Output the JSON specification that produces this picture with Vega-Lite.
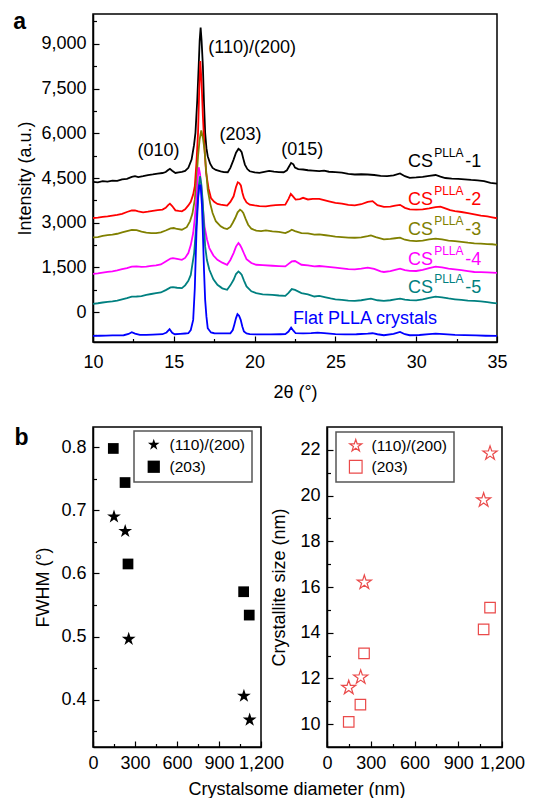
{
"$schema": "https://vega.github.io/schema/vega-lite/v6.json",
"autosize": "none",
"padding": {"left": 93, "top": 14, "right": 442, "bottom": 784},
"background": "white",
"bounds": "flush",
"spacing": 85,
"resolve": {"scale": {"shape": "independent", "color": "independent"}, "legend": {"shape": "independent", "color": "independent"}},
"datasets": {
"c1": [{"x":10,"y":4368},{"x":10.3,"y":4355},{"x":10.6,"y":4392},{"x":10.9,"y":4378},{"x":11.2,"y":4410},{"x":11.5,"y":4402},{"x":11.8,"y":4455},{"x":12.1,"y":4470},{"x":12.4,"y":4540},{"x":12.6,"y":4562},{"x":12.8,"y":4528},{"x":13.1,"y":4560},{"x":13.4,"y":4600},{"x":13.7,"y":4618},{"x":14,"y":4650},{"x":14.3,"y":4668},{"x":14.5,"y":4700},{"x":14.65,"y":4770},{"x":14.76,"y":4805},{"x":14.9,"y":4745},{"x":15.1,"y":4670},{"x":15.3,"y":4690},{"x":15.5,"y":4708},{"x":15.7,"y":4735},{"x":15.9,"y":4840},{"x":16.1,"y":5118},{"x":16.25,"y":5600},{"x":16.34,"y":6014},{"x":16.45,"y":7100},{"x":16.54,"y":8254},{"x":16.6,"y":9100},{"x":16.66,"y":9542},{"x":16.72,"y":9100},{"x":16.8,"y":8254},{"x":16.87,"y":7000},{"x":16.94,"y":6014},{"x":17.02,"y":5500},{"x":17.1,"y":5230},{"x":17.25,"y":4980},{"x":17.4,"y":4838},{"x":17.6,"y":4770},{"x":17.9,"y":4726},{"x":18.1,"y":4700},{"x":18.34,"y":4693},{"x":18.5,"y":4840},{"x":18.7,"y":5118},{"x":18.85,"y":5350},{"x":19,"y":5477},{"x":19.1,"y":5440},{"x":19.2,"y":5365},{"x":19.3,"y":5150},{"x":19.4,"y":4950},{"x":19.55,"y":4800},{"x":19.7,"y":4726},{"x":20,"y":4690},{"x":20.3,"y":4670},{"x":20.6,"y":4705},{"x":20.9,"y":4740},{"x":21.2,"y":4715},{"x":21.5,"y":4700},{"x":21.8,"y":4693},{"x":22,"y":4760},{"x":22.15,"y":4900},{"x":22.26,"y":5006},{"x":22.4,"y":4960},{"x":22.5,"y":4850},{"x":22.7,"y":4800},{"x":23,"y":4785},{"x":23.3,"y":4760},{"x":23.6,"y":4745},{"x":24,"y":4729},{"x":24.3,"y":4745},{"x":24.6,"y":4710},{"x":25,"y":4696},{"x":25.4,"y":4680},{"x":25.8,"y":4640},{"x":26.2,"y":4618},{"x":26.6,"y":4625},{"x":27,"y":4618},{"x":27.4,"y":4600},{"x":27.8,"y":4570},{"x":28.2,"y":4562},{"x":28.6,"y":4585},{"x":29,"y":4651},{"x":29.3,"y":4560},{"x":29.6,"y":4506},{"x":30,"y":4520},{"x":30.4,"y":4540},{"x":30.8,"y":4570},{"x":31.2,"y":4600},{"x":31.5,"y":4545},{"x":31.8,"y":4500},{"x":32.2,"y":4480},{"x":32.6,"y":4470},{"x":33,"y":4455},{"x":33.4,"y":4435},{"x":33.8,"y":4420},{"x":34.2,"y":4395},{"x":34.6,"y":4340},{"x":35,"y":4310}],
"c2": [{"x":10,"y":3158},{"x":10.3,"y":3170},{"x":10.6,"y":3195},{"x":10.9,"y":3215},{"x":11.2,"y":3240},{"x":11.5,"y":3265},{"x":11.8,"y":3300},{"x":12.1,"y":3360},{"x":12.4,"y":3410},{"x":12.6,"y":3416},{"x":12.8,"y":3380},{"x":13.1,"y":3349},{"x":13.4,"y":3370},{"x":13.7,"y":3400},{"x":14,"y":3420},{"x":14.3,"y":3440},{"x":14.5,"y":3500},{"x":14.65,"y":3590},{"x":14.76,"y":3640},{"x":14.9,"y":3560},{"x":15.1,"y":3416},{"x":15.3,"y":3395},{"x":15.5,"y":3382},{"x":15.7,"y":3450},{"x":15.9,"y":3580},{"x":16.05,"y":3700},{"x":16.2,"y":3950},{"x":16.3,"y":4222},{"x":16.4,"y":5000},{"x":16.5,"y":6014},{"x":16.57,"y":7400},{"x":16.64,"y":8422},{"x":16.72,"y":7700},{"x":16.8,"y":6574},{"x":16.9,"y":5500},{"x":17,"y":4670},{"x":17.15,"y":4150},{"x":17.3,"y":3830},{"x":17.5,"y":3700},{"x":17.7,"y":3630},{"x":17.9,"y":3606},{"x":18.1,"y":3590},{"x":18.3,"y":3573},{"x":18.5,"y":3700},{"x":18.7,"y":3886},{"x":18.85,"y":4200},{"x":18.96,"y":4357},{"x":19.05,"y":4330},{"x":19.15,"y":4250},{"x":19.25,"y":4000},{"x":19.34,"y":3830},{"x":19.5,"y":3680},{"x":19.7,"y":3606},{"x":20,"y":3580},{"x":20.3,"y":3560},{"x":20.7,"y":3550},{"x":21,"y":3570},{"x":21.3,"y":3590},{"x":21.6,"y":3600},{"x":21.9,"y":3606},{"x":22.1,"y":3800},{"x":22.24,"y":3965},{"x":22.35,"y":3900},{"x":22.54,"y":3774},{"x":22.8,"y":3790},{"x":23,"y":3836},{"x":23.3,"y":3780},{"x":23.6,"y":3800},{"x":24,"y":3803},{"x":24.3,"y":3760},{"x":24.6,"y":3720},{"x":25,"y":3669},{"x":25.4,"y":3640},{"x":25.8,"y":3600},{"x":26.2,"y":3580},{"x":26.6,"y":3620},{"x":27,"y":3700},{"x":27.3,"y":3725},{"x":27.6,"y":3590},{"x":28,"y":3535},{"x":28.4,"y":3540},{"x":28.7,"y":3570},{"x":29,"y":3600},{"x":29.3,"y":3500},{"x":29.6,"y":3446},{"x":30,"y":3440},{"x":30.4,"y":3446},{"x":30.8,"y":3480},{"x":31.2,"y":3520},{"x":31.5,"y":3540},{"x":31.8,"y":3480},{"x":32.1,"y":3420},{"x":32.4,"y":3390},{"x":32.8,"y":3360},{"x":33.2,"y":3320},{"x":33.6,"y":3278},{"x":34,"y":3240},{"x":34.4,"y":3210},{"x":34.7,"y":3180},{"x":35,"y":3150}],
"c3": [{"x":10,"y":2509},{"x":10.3,"y":2520},{"x":10.6,"y":2560},{"x":10.9,"y":2585},{"x":11.2,"y":2600},{"x":11.5,"y":2630},{"x":11.8,"y":2680},{"x":12.1,"y":2720},{"x":12.4,"y":2760},{"x":12.7,"y":2750},{"x":13,"y":2700},{"x":13.3,"y":2670},{"x":13.6,"y":2650},{"x":13.9,"y":2654},{"x":14.2,"y":2680},{"x":14.5,"y":2740},{"x":14.8,"y":2810},{"x":15,"y":2822},{"x":15.2,"y":2790},{"x":15.5,"y":2766},{"x":15.8,"y":2850},{"x":16,"y":3046},{"x":16.15,"y":3300},{"x":16.3,"y":3774},{"x":16.4,"y":4400},{"x":16.5,"y":5230},{"x":16.6,"y":5800},{"x":16.7,"y":6093},{"x":16.8,"y":5850},{"x":16.9,"y":5454},{"x":17,"y":4750},{"x":17.1,"y":4110},{"x":17.25,"y":3650},{"x":17.4,"y":3326},{"x":17.6,"y":3050},{"x":17.9,"y":2878},{"x":18.1,"y":2820},{"x":18.3,"y":2789},{"x":18.5,"y":2860},{"x":18.65,"y":3000},{"x":18.8,"y":3158},{"x":18.95,"y":3350},{"x":19.1,"y":3438},{"x":19.2,"y":3400},{"x":19.3,"y":3326},{"x":19.45,"y":3120},{"x":19.6,"y":2934},{"x":19.8,"y":2800},{"x":20.1,"y":2733},{"x":20.4,"y":2720},{"x":20.7,"y":2740},{"x":21.1,"y":2710},{"x":21.5,"y":2690},{"x":21.9,"y":2654},{"x":22.1,"y":2700},{"x":22.3,"y":2766},{"x":22.5,"y":2720},{"x":22.9,"y":2654},{"x":23.3,"y":2640},{"x":23.7,"y":2598},{"x":24,"y":2609},{"x":24.4,"y":2580},{"x":24.7,"y":2560},{"x":25,"y":2531},{"x":25.4,"y":2520},{"x":25.8,"y":2500},{"x":26.2,"y":2497},{"x":26.6,"y":2510},{"x":27,"y":2550},{"x":27.2,"y":2575},{"x":27.5,"y":2520},{"x":28,"y":2441},{"x":28.4,"y":2460},{"x":28.7,"y":2480},{"x":29,"y":2497},{"x":29.3,"y":2430},{"x":29.6,"y":2400},{"x":30,"y":2386},{"x":30.4,"y":2400},{"x":30.8,"y":2440},{"x":31.2,"y":2464},{"x":31.6,"y":2440},{"x":32,"y":2400},{"x":32.4,"y":2386},{"x":32.8,"y":2360},{"x":33.2,"y":2330},{"x":33.6,"y":2307},{"x":34,"y":2300},{"x":34.4,"y":2285},{"x":34.7,"y":2278},{"x":35,"y":2260}],
"c4": [{"x":10,"y":1288},{"x":10.3,"y":1300},{"x":10.6,"y":1330},{"x":10.9,"y":1350},{"x":11.2,"y":1372},{"x":11.5,"y":1400},{"x":11.8,"y":1440},{"x":12.1,"y":1480},{"x":12.4,"y":1530},{"x":12.7,"y":1534},{"x":13,"y":1520},{"x":13.3,"y":1530},{"x":13.6,"y":1555},{"x":13.9,"y":1568},{"x":14.2,"y":1600},{"x":14.5,"y":1700},{"x":14.8,"y":1800},{"x":14.95,"y":1814},{"x":15.2,"y":1790},{"x":15.5,"y":1758},{"x":15.7,"y":1820},{"x":15.9,"y":1982},{"x":16.05,"y":2250},{"x":16.2,"y":2654},{"x":16.3,"y":3150},{"x":16.4,"y":3774},{"x":16.47,"y":4400},{"x":16.54,"y":4861},{"x":16.62,"y":4650},{"x":16.7,"y":4222},{"x":16.8,"y":3500},{"x":16.9,"y":2878},{"x":17.05,"y":2450},{"x":17.2,"y":2150},{"x":17.45,"y":1900},{"x":17.7,"y":1758},{"x":18,"y":1660},{"x":18.3,"y":1590},{"x":18.5,"y":1750},{"x":18.7,"y":1982},{"x":18.85,"y":2200},{"x":19,"y":2318},{"x":19.1,"y":2250},{"x":19.2,"y":2150},{"x":19.35,"y":1960},{"x":19.5,"y":1781},{"x":19.8,"y":1650},{"x":20.1,"y":1590},{"x":20.5,"y":1580},{"x":21.1,"y":1557},{"x":21.5,"y":1545},{"x":21.9,"y":1534},{"x":22.1,"y":1620},{"x":22.3,"y":1702},{"x":22.5,"y":1716},{"x":22.9,"y":1590},{"x":23.3,"y":1570},{"x":23.7,"y":1534},{"x":24,"y":1549},{"x":24.4,"y":1530},{"x":24.7,"y":1510},{"x":25,"y":1493},{"x":25.4,"y":1470},{"x":25.8,"y":1445},{"x":26.2,"y":1437},{"x":26.6,"y":1460},{"x":27,"y":1493},{"x":27.4,"y":1450},{"x":27.8,"y":1370},{"x":28,"y":1348},{"x":28.4,"y":1380},{"x":28.7,"y":1420},{"x":29,"y":1460},{"x":29.3,"y":1410},{"x":29.6,"y":1385},{"x":30,"y":1381},{"x":30.4,"y":1420},{"x":30.8,"y":1480},{"x":31.2,"y":1526},{"x":31.6,"y":1500},{"x":32,"y":1460},{"x":32.4,"y":1437},{"x":32.8,"y":1410},{"x":33.2,"y":1380},{"x":33.6,"y":1348},{"x":34,"y":1340},{"x":34.4,"y":1332},{"x":34.7,"y":1328},{"x":35,"y":1320}],
"c5": [{"x":10,"y":280},{"x":10.3,"y":300},{"x":10.6,"y":325},{"x":10.9,"y":345},{"x":11.2,"y":365},{"x":11.5,"y":390},{"x":11.8,"y":430},{"x":12.1,"y":470},{"x":12.4,"y":520},{"x":12.7,"y":526},{"x":13,"y":540},{"x":13.3,"y":580},{"x":13.6,"y":610},{"x":13.9,"y":638},{"x":14.2,"y":660},{"x":14.5,"y":740},{"x":14.8,"y":830},{"x":14.95,"y":840},{"x":15.2,"y":820},{"x":15.5,"y":806},{"x":15.7,"y":900},{"x":15.9,"y":1050},{"x":16.05,"y":1250},{"x":16.15,"y":1600},{"x":16.26,"y":1982},{"x":16.36,"y":2700},{"x":16.46,"y":3550},{"x":16.54,"y":4200},{"x":16.62,"y":4558},{"x":16.7,"y":4300},{"x":16.78,"y":3774},{"x":16.86,"y":3000},{"x":16.94,"y":2206},{"x":17.05,"y":1750},{"x":17.2,"y":1422},{"x":17.45,"y":1100},{"x":17.7,"y":918},{"x":18,"y":800},{"x":18.3,"y":750},{"x":18.5,"y":900},{"x":18.7,"y":1086},{"x":18.85,"y":1280},{"x":19,"y":1366},{"x":19.1,"y":1320},{"x":19.2,"y":1254},{"x":19.35,"y":1050},{"x":19.5,"y":862},{"x":19.8,"y":700},{"x":20.1,"y":638},{"x":20.5,"y":600},{"x":21.1,"y":582},{"x":21.5,"y":560},{"x":21.9,"y":549},{"x":22.1,"y":650},{"x":22.3,"y":773},{"x":22.5,"y":745},{"x":22.9,"y":638},{"x":23.3,"y":600},{"x":23.7,"y":526},{"x":24,"y":544},{"x":24.4,"y":500},{"x":24.7,"y":460},{"x":25,"y":433},{"x":25.4,"y":410},{"x":25.8,"y":390},{"x":26.2,"y":377},{"x":26.6,"y":400},{"x":27,"y":440},{"x":27.2,"y":455},{"x":27.6,"y":400},{"x":28,"y":377},{"x":28.4,"y":400},{"x":28.7,"y":430},{"x":29,"y":455},{"x":29.3,"y":420},{"x":29.6,"y":405},{"x":30,"y":399},{"x":30.4,"y":430},{"x":30.8,"y":480},{"x":31.2,"y":522},{"x":31.6,"y":500},{"x":32,"y":460},{"x":32.4,"y":433},{"x":32.8,"y":410},{"x":33.2,"y":390},{"x":33.6,"y":377},{"x":34,"y":360},{"x":34.4,"y":335},{"x":34.7,"y":315},{"x":35,"y":295}],
"c6": [{"x":10,"y":-795},{"x":10.4,"y":-790},{"x":10.8,"y":-785},{"x":11.2,"y":-780},{"x":11.6,"y":-778},{"x":11.9,"y":-773},{"x":12.2,"y":-730},{"x":12.4,"y":-672},{"x":12.6,"y":-720},{"x":12.9,"y":-762},{"x":13.3,"y":-760},{"x":13.7,"y":-750},{"x":14,"y":-745},{"x":14.3,"y":-739},{"x":14.55,"y":-680},{"x":14.74,"y":-571},{"x":14.9,"y":-690},{"x":15.06,"y":-739},{"x":15.4,"y":-725},{"x":15.7,"y":-715},{"x":15.9,"y":-706},{"x":16.05,"y":-600},{"x":16.2,"y":-258},{"x":16.3,"y":800},{"x":16.4,"y":2654},{"x":16.5,"y":3800},{"x":16.58,"y":4250},{"x":16.66,"y":4250},{"x":16.74,"y":3600},{"x":16.8,"y":2654},{"x":16.87,"y":1400},{"x":16.94,"y":414},{"x":17.02,"y":-150},{"x":17.1,"y":-538},{"x":17.3,"y":-680},{"x":17.5,"y":-706},{"x":18,"y":-710},{"x":18.5,"y":-706},{"x":18.65,"y":-600},{"x":18.74,"y":-426},{"x":18.85,"y":-200},{"x":18.94,"y":-67},{"x":19.04,"y":-120},{"x":19.14,"y":-258},{"x":19.24,"y":-480},{"x":19.34,"y":-650},{"x":19.5,"y":-715},{"x":19.7,"y":-739},{"x":20.3,"y":-745},{"x":21,"y":-742},{"x":21.6,"y":-740},{"x":21.9,"y":-739},{"x":22.1,"y":-650},{"x":22.26,"y":-515},{"x":22.4,"y":-620},{"x":22.54,"y":-706},{"x":23,"y":-712},{"x":23.5,"y":-705},{"x":23.9,"y":-683},{"x":24.3,"y":-700},{"x":25,"y":-739},{"x":25.6,"y":-745},{"x":26.3,"y":-740},{"x":27,"y":-720},{"x":27.3,"y":-706},{"x":27.6,"y":-740},{"x":28,"y":-773},{"x":28.6,"y":-730},{"x":29,"y":-661},{"x":29.3,"y":-740},{"x":29.6,"y":-773},{"x":30.2,"y":-765},{"x":30.8,"y":-735},{"x":31.2,"y":-717},{"x":31.7,"y":-735},{"x":32.4,"y":-762},{"x":33,"y":-770},{"x":33.7,"y":-780},{"x":34.3,"y":-790},{"x":35,"y":-795}],
"peaks": [{"x":14.05,"y":5393,"t":"(010)"},{"x":19.85,"y":8865,"t":"(110)/(200)"},{"x":19.13,"y":5954,"t":"(203)"},{"x":22.95,"y":5450,"t":"(015)"}],
"curves": [{"x":31.11,"y":4862,"s":"1","suf":"-1"},{"x":31.11,"y":3603,"s":"2","suf":"-2"},{"x":31.11,"y":2596,"s":"3","suf":"-3"},{"x":31.11,"y":1588,"s":"4","suf":"-4"},{"x":31.11,"y":631,"s":"5","suf":"-5"}],
"flat": [{"x":22.38,"y":-400,"t":"Flat PLLA crystals"}],
"tagA": [{"x":5.46,"y":9503,"t":"a"}],
"tagB": [{"d":-511,"v":0.803,"t":"b"}],
"fw": [{"d":150,"v":0.69,"peak":"(110)/(200)"},{"d":230,"v":0.667,"peak":"(110)/(200)"},{"d":255,"v":0.496,"peak":"(110)/(200)"},{"d":1078,"v":0.406,"peak":"(110)/(200)"},{"d":1119,"v":0.368,"peak":"(110)/(200)"},{"d":145,"v":0.798,"peak":"(203)"},{"d":229,"v":0.744,"peak":"(203)"},{"d":250,"v":0.615,"peak":"(203)"},{"d":1076,"v":0.571,"peak":"(203)"},{"d":1116,"v":0.534,"peak":"(203)"}],
"cs": [{"d":149,"v":11.6,"peak":"(110)/(200)"},{"d":231,"v":12.05,"peak":"(110)/(200)"},{"d":256,"v":16.2,"peak":"(110)/(200)"},{"d":1074,"v":19.8,"peak":"(110)/(200)"},{"d":1118,"v":21.85,"peak":"(110)/(200)"},{"d":149,"v":10.1,"peak":"(203)"},{"d":229,"v":10.85,"peak":"(203)"},{"d":254,"v":13.1,"peak":"(203)"},{"d":1074,"v":14.15,"peak":"(203)"},{"d":1118,"v":15.1,"peak":"(203)"}]
},
"vconcat": [
{
"width": 404, "height": 328,
"encoding": {
"x": {"field": "x", "type": "quantitative", "scale": {"domain": [10, 35], "nice": false, "zero": false},
"axis": {"title": "2θ (°)", "values": [10,12.5,15,17.5,20,22.5,25,27.5,30,32.5,35], "labelExpr": "datum.value % 5 === 0 ? datum.label : ''", "tickSize": {"condition": {"test": "datum.value % 5 === 0", "value": -6}, "value": -3.5}, "labelPadding": 17, "titlePadding": 10}},
"y": {"field": "y", "type": "quantitative", "scale": {"domain": [-1000, 10000], "nice": false, "zero": false},
"axis": {"title": "Intensity (a.u.)", "values": [-750,0,750,1500,2250,3000,3750,4500,5250,6000,6750,7500,8250,9000,9750], "labelExpr": "datum.value % 1500 === 0 ? format(datum.value, ',') : ''", "tickSize": {"condition": {"test": "datum.value % 1500 === 0", "value": -6}, "value": -3.5}, "labelPadding": 13, "titlePadding": 6}}
},
"layer": [
{"data": {"name": "c1"}, "mark": {"type": "line", "color": "#000000", "strokeWidth": 1.8}},
{"data": {"name": "c2"}, "mark": {"type": "line", "color": "#ff0000", "strokeWidth": 1.8}},
{"data": {"name": "c3"}, "mark": {"type": "line", "color": "#808000", "strokeWidth": 1.8}},
{"data": {"name": "c4"}, "mark": {"type": "line", "color": "#ff00ff", "strokeWidth": 1.8}},
{"data": {"name": "c5"}, "mark": {"type": "line", "color": "#008080", "strokeWidth": 1.8}},
{"data": {"name": "c6"}, "mark": {"type": "line", "color": "#0000ff", "strokeWidth": 1.8}},
{"data": {"name": "peaks"}, "mark": {"type": "text", "fontSize": 18, "color": "black", "align": "center", "baseline": "middle"}, "encoding": {"text": {"field": "t"}}},
{"data": {"name": "curves"}, "mark": {"type": "text", "fontSize": 18, "align": "right", "baseline": "alphabetic", "dx": -1}, "encoding": {"text": {"value": "CS"}, "color": {"field": "s", "type": "nominal", "scale": {"domain": ["1","2","3","4","5"], "range": ["#000000","#ff0000","#808000","#ff00ff","#008080"]}, "legend": null}}},
{"data": {"name": "curves"}, "mark": {"type": "text", "fontSize": 12, "align": "left", "baseline": "alphabetic", "dy": -10}, "encoding": {"text": {"value": "PLLA"}, "color": {"field": "s", "type": "nominal", "legend": null}}},
{"data": {"name": "curves"}, "mark": {"type": "text", "fontSize": 18, "align": "left", "baseline": "alphabetic", "dx": 31}, "encoding": {"text": {"field": "suf"}, "color": {"field": "s", "type": "nominal", "legend": null}}},
{"data": {"name": "flat"}, "mark": {"type": "text", "fontSize": 18, "align": "left", "baseline": "alphabetic", "color": "#0000ff"}, "encoding": {"text": {"field": "t"}}},
{"data": {"name": "tagA"}, "mark": {"type": "text", "fontSize": 23, "fontWeight": "bold", "align": "center", "baseline": "alphabetic", "color": "black"}, "encoding": {"text": {"field": "t"}}}
]
},
{
"bounds": "flush",
"spacing": 66,
"resolve": {"scale": {"shape": "independent"}, "legend": {"shape": "independent"}},
"title": {"text": "Crystalsome diameter (nm)", "orient": "bottom", "anchor": "start", "align": "center", "frame": "group", "dx": 204, "fontSize": 18, "fontWeight": "normal", "baseline": "top", "offset": 6, "color": "black"},
"hconcat": [
{
"width": 168, "height": 320,
"encoding": {
"x": {"field": "d", "type": "quantitative", "scale": {"domain": [0, 1200], "nice": false, "zero": false},
"axis": {"title": null, "values": [0,150,300,450,600,750,900,1050,1200], "labelExpr": "datum.value % 300 === 0 ? format(datum.value, ',') : ''", "tickSize": {"condition": {"test": "datum.value % 300 === 0", "value": -6}, "value": -3.5}, "labelPadding": 13}},
"y": {"field": "v", "type": "quantitative", "scale": {"domain": [0.325, 0.832], "nice": false, "zero": false},
"axis": {"title": "FWHM (°)", "values": [0.35,0.4,0.45,0.5,0.55,0.6,0.65,0.7,0.75,0.8], "labelExpr": "round(datum.value*100) % 10 === 0 ? format(datum.value, '.1f') : ''", "tickSize": {"condition": {"test": "round(datum.value*100) % 10 === 0", "value": -6}, "value": -3.5}, "labelPadding": 13, "titlePadding": 8}}
},
"layer": [
{"data": {"name": "fw"}, "transform": [{"filter": "datum.peak === '(110)/(200)'"}], "mark": {"type": "point", "filled": true, "opacity": 1, "color": "black", "size": 210},
"encoding": {"shape": {"field": "peak", "type": "nominal", "scale": {"domain": ["(110)/(200)", "(203)"], "range": ["M0,-1L0.2245,-0.309L0.951,-0.309L0.363,0.118L0.588,0.809L0,0.382L-0.588,0.809L-0.363,0.118L-0.951,-0.309L-0.2245,-0.309Z", "square"]},
"legend": {"title": null, "orient": "none", "legendX": 41, "legendY": 4, "strokeColor": "#555555", "fillColor": "white", "padding": 6, "labelFontSize": 15.5, "labelColor": "black", "symbolSize": 150, "symbolFillColor": "black", "symbolStrokeColor": "black", "symbolOffset": 6, "labelOffset": 8, "rowPadding": 3}}}},
{"data": {"name": "fw"}, "transform": [{"filter": "datum.peak === '(203)'"}], "mark": {"type": "point", "filled": true, "opacity": 1, "color": "black", "size": 115},
"encoding": {"shape": {"field": "peak", "type": "nominal"}}},
{"data": {"name": "tagB"}, "mark": {"type": "text", "fontSize": 23, "fontWeight": "bold", "align": "center", "baseline": "alphabetic", "color": "black"}, "encoding": {"text": {"field": "t"}}}
]
},
{
"width": 175, "height": 320,
"data": {"name": "cs"},
"encoding": {
"x": {"field": "d", "type": "quantitative", "scale": {"domain": [0, 1200], "nice": false, "zero": false},
"axis": {"title": null, "values": [0,150,300,450,600,750,900,1050,1200], "labelExpr": "datum.value % 300 === 0 ? format(datum.value, ',') : ''", "tickSize": {"condition": {"test": "datum.value % 300 === 0", "value": -6}, "value": -3.5}, "labelPadding": 13}},
"y": {"field": "v", "type": "quantitative", "scale": {"domain": [9, 23], "nice": false, "zero": false},
"axis": {"title": "Crystallite size (nm)", "values": [10,11,12,13,14,15,16,17,18,19,20,21,22], "labelExpr": "datum.value % 2 === 0 ? format(datum.value, 'd') : ''", "tickSize": {"condition": {"test": "datum.value % 2 === 0", "value": -6}, "value": -3.5}, "labelPadding": 13, "titlePadding": 11}},
"shape": {"field": "peak", "type": "nominal", "scale": {"domain": ["(110)/(200)", "(203)"], "range": ["M0,-1L0.2245,-0.309L0.951,-0.309L0.363,0.118L0.588,0.809L0,0.382L-0.588,0.809L-0.363,0.118L-0.951,-0.309L-0.2245,-0.309Z", "square"]},
"legend": {"title": null, "orient": "none", "legendX": 9, "legendY": 5, "strokeColor": "#555555", "fillColor": "white", "padding": 6, "labelFontSize": 15.5, "labelColor": "black", "symbolSize": 160, "symbolFillColor": "transparent", "symbolStrokeColor": "#ea4a4a", "symbolStrokeWidth": 1.2, "symbolOffset": 6, "labelOffset": 8, "rowPadding": 3}}
},
"layer": [
{"transform": [{"filter": "datum.peak === '(110)/(200)'"}], "mark": {"type": "point", "filled": false, "opacity": 1, "color": "#ea4a4a", "strokeWidth": 1.2, "size": 220}},
{"transform": [{"filter": "datum.peak === '(203)'"}], "mark": {"type": "point", "filled": false, "opacity": 1, "color": "#ea4a4a", "strokeWidth": 1.2, "size": 110}}
]
}
]
}
],
"config": {
"font": "Liberation Sans",
"view": {"stroke": "black", "strokeWidth": 1.5},
"axis": {"domainColor": "black", "domainWidth": 1.5, "tickColor": "black", "tickWidth": 1.2, "labelColor": "black", "titleColor": "black", "labelFontSize": 18, "titleFontSize": 18, "titleFontWeight": "normal", "grid": false, "labelFont": "Liberation Sans", "titleFont": "Liberation Sans", "labelFlush": false, "labelOverlap": false},
"legend": {"labelFont": "Liberation Sans", "strokeWidth": 1.5},
"title": {"font": "Liberation Sans"}
}
}
